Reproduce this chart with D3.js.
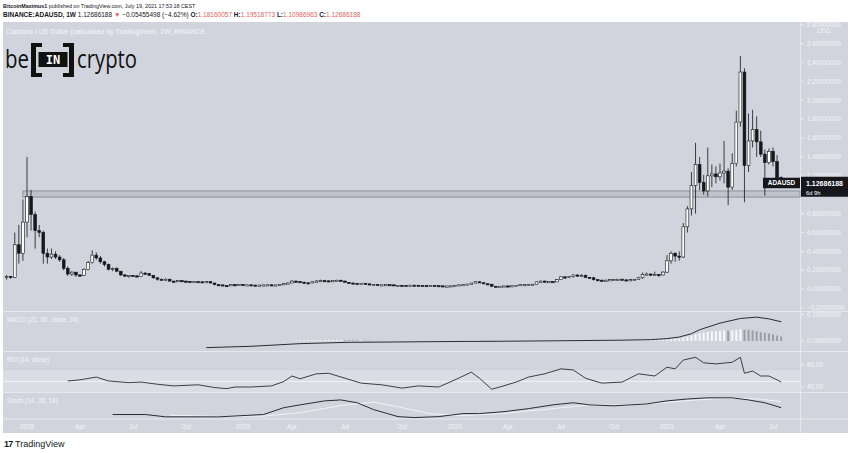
<!DOCTYPE html>
<html>
<head>
<meta charset="utf-8">
<script src="https://cdn.jsdelivr.net/npm/d3@7"></script>
<style>
  body { margin: 0; background: #fff; }
  svg { display: block; font-family: "Liberation Sans", Arial, sans-serif; }
</style>
</head>
<body>
<div id="chart"></div>
<script>
// weekly ADAUSD candles, first bar = week of 2017-11-27
const firstWeek = "2017-11-27";
const opens = [
  .125,.135,.125,.47,.38,.71,.98,.79,.62,.60,
  .38,.34,.37,.34,.31,.22,.16,.18,.15,.145,
  .21,.28,.36,.33,.29,.26,.21,.22,.19,.15,
  .14,.145,.14,.135,.17,.165,.145,.12,.105,.10,
  .105,.085,.08,.09,.085,.082,.078,.08,.078,.077,
  .08,.065,.047,.045,.038,.035,.047,.045,.049,.045,
  .046,.043,.04,.043,.045,.046,.044,.045,.049,.058,
  .065,.085,.08,.074,.067,.066,.078,.086,.09,.088,
  .082,.09,.094,.085,.072,.065,.06,.058,.062,.056,
  .048,.049,.045,.046,.048,.046,.039,.04,.039,.037,
  .042,.041,.04,.038,.034,.039,.037,.035,.033,.033,
  .035,.041,.046,.048,.054,.064,.078,.068,.057,.052,
  .03,.029,.031,.034,.033,.036,.039,.048,.048,.049,
  .052,.077,.085,.079,.08,.077,.10,.13,.125,.135,
  .15,.14,.145,.125,.12,.10,.095,.09,.095,.10,
  .102,.105,.098,.095,.10,.103,.12,.155,.16,.15,
  .155,.15,.18,.30,.38,.35,.34,.66,.85,1.10,
  1.32,1.13,1.04,1.20,1.22,1.19,1.23,1.25,1.08,1.33,
  1.77,2.30,1.31,1.57,1.69,1.56,1.43,1.34,1.46,1.35,
  1.18160057
];
const highs = [
  .15,.14,.60,.68,.95,1.40,1.05,.82,.68,.62,
  .43,.43,.40,.36,.33,.24,.19,.18,.16,.22,
  .30,.41,.39,.35,.30,.27,.23,.23,.19,.16,
  .15,.15,.15,.19,.18,.17,.15,.125,.11,.115,
  .11,.09,.095,.095,.09,.085,.082,.082,.08,.085,
  .082,.066,.05,.047,.04,.05,.05,.05,.052,.048,
  .047,.045,.044,.046,.05,.048,.046,.05,.06,.07,
  .095,.09,.085,.078,.07,.08,.095,.10,.098,.09,
  .092,.10,.098,.09,.075,.068,.063,.063,.064,.058,
  .052,.05,.048,.05,.05,.047,.042,.042,.04,.045,
  .045,.044,.042,.039,.04,.04,.038,.036,.035,.036,
  .042,.048,.05,.056,.066,.085,.08,.07,.06,.053,
  .035,.032,.035,.038,.037,.04,.05,.052,.05,.055,
  .08,.09,.09,.084,.082,.105,.137,.135,.14,.155,
  .155,.16,.155,.13,.13,.105,.10,.10,.105,.105,
  .108,.11,.105,.105,.108,.13,.175,.175,.165,.185,
  .16,.19,.36,.40,.39,.40,.70,.88,1.24,1.55,
  1.40,1.21,1.50,1.32,1.30,1.33,1.57,1.28,1.44,1.89,
  2.47,2.34,1.86,1.90,1.83,1.68,1.48,1.49,1.50,1.42,
  1.19518773
];
const lows = [
  .10,.11,.12,.27,.30,.55,.62,.43,.55,.27,
  .27,.32,.32,.29,.20,.14,.14,.13,.13,.14,
  .20,.27,.31,.27,.24,.20,.19,.18,.14,.13,
  .12,.13,.13,.13,.15,.14,.11,.09,.095,.095,
  .08,.07,.075,.08,.08,.07,.075,.076,.075,.076,
  .06,.04,.038,.036,.031,.034,.04,.04,.04,.043,
  .041,.036,.038,.041,.043,.042,.041,.044,.048,.056,
  .064,.075,.072,.06,.063,.064,.07,.08,.085,.075,
  .08,.088,.08,.07,.06,.055,.057,.056,.055,.045,
  .046,.043,.044,.044,.045,.036,.037,.038,.036,.035,
  .04,.039,.037,.033,.032,.036,.034,.031,.032,.032,
  .034,.04,.042,.046,.053,.062,.065,.055,.05,.023,
  .027,.027,.029,.032,.03,.034,.038,.043,.042,.048,
  .05,.075,.075,.077,.075,.076,.098,.11,.12,.12,
  .13,.135,.12,.115,.09,.09,.085,.088,.093,.095,
  .099,.096,.093,.094,.094,.10,.11,.145,.14,.145,
  .13,.145,.17,.27,.29,.30,.33,.60,.78,.80,
  1.05,1.00,.98,1.08,1.12,1.15,1.12,.89,1.05,1.30,
  1.72,.92,1.24,1.50,1.40,1.40,.99,1.32,1.30,1.12,
  1.10986963
];
const closes = [
  .135,.125,.47,.38,.71,.98,.79,.62,.60,.38,
  .34,.37,.34,.31,.22,.16,.18,.15,.145,.21,
  .28,.36,.33,.29,.26,.21,.22,.19,.15,.14,
  .145,.14,.135,.17,.165,.145,.12,.105,.10,.105,
  .085,.08,.09,.085,.082,.078,.08,.078,.077,.08,
  .065,.047,.045,.038,.035,.047,.045,.049,.045,.046,
  .043,.04,.043,.045,.046,.044,.045,.049,.058,.065,
  .085,.08,.074,.067,.066,.078,.086,.09,.088,.082,
  .09,.094,.085,.072,.065,.06,.058,.062,.056,.048,
  .049,.045,.046,.048,.046,.039,.04,.039,.037,.042,
  .041,.04,.038,.034,.039,.037,.035,.033,.033,.035,
  .041,.046,.048,.054,.064,.078,.068,.057,.052,.03,
  .029,.031,.034,.033,.036,.039,.048,.048,.049,.052,
  .077,.085,.079,.08,.077,.10,.13,.125,.135,.15,
  .14,.145,.125,.12,.10,.095,.09,.095,.10,.102,
  .105,.098,.095,.10,.103,.12,.155,.16,.15,.155,
  .15,.18,.30,.38,.35,.34,.66,.85,1.10,1.32,
  1.13,1.04,1.20,1.22,1.19,1.23,1.25,1.08,1.33,1.77,
  2.30,1.31,1.57,1.69,1.56,1.43,1.34,1.46,1.35,1.18,
  1.12686188
];

// indicator readings as [bar index, value]
const macdLine = [[49,-0.05],[60,-0.04],[72,-0.02],[84,-0.01],[97,-0.007],[109,-0.004],[121,-0.002],
  [136,0.002],[150,0.006],[158,0.01],[162,0.018],[165,0.03],[168,0.055],[170,0.085],[175,0.135],
  [180,0.17],[184,0.18],[187,0.167],[190,0.145]];
const histStart = 70;
const macdHist = [
  0.002,0.004,0.005,0.006,0.006,0.007,0.007,0.008,0.008,0.008,
  0.008,0.008,0.008,0.007,0.006,0.005,0.004,0.004,0.003,0.002,
  0.002,0.001,0.001,0.001,0.001,0.000,0.000,-0.001,-0.001,-0.001,
  -0.001,-0.001,-0.002,-0.002,-0.002,-0.002,-0.002,
  -0.002,-0.002,-0.002,-0.001,0.000,0.001,0.002,0.003,0.004,0.004,
  0.003,0.002,0.000,-0.001,-0.002,-0.002,-0.002,-0.002,-0.001,-0.001,
  0.000,0.000,0.001,0.002,0.003,0.004,0.005,0.006,0.007,0.008,
  0.008,0.009,0.009,0.009,
  0.009,0.008,0.008,0.007,0.006,0.005,0.004,0.004,0.003,0.003,
  0.002,0.002,0.002,0.002,0.003,0.004,0.005,0.006,0.006,0.007,
  0.008,0.010,
  0.013,0.016,0.018,0.025,0.033,0.042,0.052,0.058,0.062,0.068,
  0.072,0.075,0.077,0.080,0.078,0.080,0.084,0.090,0.086,0.084,
  0.080,0.074,0.067,0.062,0.057,0.050,0.041,0.035
];
const rsiLine = [[15,51],[18,53],[22,58],[25,51],[30,48],[33,49],[37,45],[41,42],[47,44],[51,39],
  [54,37],[56,40],[60,40],[65,42],[68,50],[70,60],[72,55],[76,64],[79,65],[83,56],[87,47],[92,44],
  [97,38],[101,42],[106,40],[110,53],[114,67],[116,56],[119,36],[121,40],[125,49],[128,58],[132,64],
  [136,73],[139,71],[142,56],[146,47],[151,49],[155,64],[159,60],[162,76],[164,73],[166,89],[169,94],
  [171,84],[174,82],[178,85],[180,94],[181,65],[183,69],[185,60],[187,60],[189,53],[190,49]];
const stochK = [[26,17],[34,17],[39,7],[52,7],[63,17],[68,46],[72,58],[78,75],[82,79],[86,67],[90,38],
  [96,8],[100,4],[106,8],[112,21],[116,21],[122,29],[128,42],[134,58],[139,67],[143,58],[149,54],
  [153,58],[157,62],[162,75],[167,83],[172,88],[178,88],[182,79],[186,67],[190,46]];
const stochD = [[40,14],[52,9],[63,10],[72,25],[82,55],[90,70],[96,50],[104,20],[112,12],[122,22],
  [133,40],[143,58],[152,58],[160,66],[170,80],[178,87],[185,82],[190,72]];

// support zone drawn on the chart
const zoneStartIndex = 4;
const zoneTop = 1.04, zoneBottom = 0.975;

const priceTicks = d3.range(-0.2, 2.81, 0.2);
const macdTicks = [0, 0.2];
const rsiTicks = [40, 80];
const timeTickDates = ["2018-01-01","2018-04-02","2018-07-02","2018-10-01","2019-01-07","2019-04-01",
  "2019-07-01","2019-10-07","2020-01-06","2020-04-06","2020-07-06","2020-10-05","2021-01-04",
  "2021-04-05","2021-07-05"];
const timeTickLabels = ["2018","Apr","Jul","Oct","2019","Apr","Jul","Oct","2020","Apr","Jul","Oct",
  "2021","Apr","Jul"];

const W = 850, H = 453;
const chartLeft = 3, plotRight = 800, chartRight = 848;
const chartTop = 22, chartBottom = 433;
const panes = {
  main: [chartTop, 311.5],
  macd: [311.5, 351.5],
  rsi: [351.5, 392.5],
  stoch: [392.5, 419]
};
const bg = '#d1d4dc', light = '#f4f5f8', sep = '#e6e8ee', ink = '#16171c';

const parse = d3.utcParse('%Y-%m-%d');
const start = parse(firstWeek);
const dates = closes.map((_, i) => d3.utcDay.offset(start, 7 * i));

const x = d3.scaleUtc()
  .domain([parse('2018-01-01'), parse('2021-01-04')])
  .range([27, 667]);
const y = d3.scaleLinear().domain([-0.2, 2.6]).range([308, 43.7]);
const yMacd = d3.scaleLinear().domain([0, 0.2]).range([341, 314.5]);
const yRsi = d3.scaleLinear().domain([40, 80]).range([387, 365]);
const yStoch = d3.scaleLinear().domain([0, 100]).range([418.5, 395]);

const svg = d3.select('#chart').append('svg')
  .attr('width', W)
  .attr('height', H);

svg.append('rect').attr('width', W).attr('height', H).attr('fill', '#fff');
svg.append('rect')
  .attr('x', chartLeft).attr('y', chartTop)
  .attr('width', chartRight - chartLeft).attr('height', chartBottom - chartTop)
  .attr('fill', bg);

// clip paths for each pane (plot area and the matching axis strip)
const defs = svg.append('defs');
Object.entries(panes).forEach(([name, [y0, y1]]) => {
  defs.append('clipPath').attr('id', 'clip-' + name)
    .append('rect')
    .attr('x', chartLeft).attr('y', y0)
    .attr('width', plotRight - chartLeft).attr('height', y1 - y0);
  defs.append('clipPath').attr('id', 'axis-' + name)
    .append('rect')
    .attr('x', plotRight).attr('y', y0)
    .attr('width', chartRight - plotRight).attr('height', y1 - y0);
});

// RSI band 30-70 and middle line
svg.append('rect')
  .attr('x', chartLeft).attr('y', yRsi(70))
  .attr('width', plotRight - chartLeft).attr('height', yRsi(30) - yRsi(70))
  .attr('fill', '#dadde4')
  .attr('clip-path', 'url(#clip-rsi)');
svg.append('line')
  .attr('x1', chartLeft).attr('x2', plotRight)
  .attr('y1', yRsi(50)).attr('y2', yRsi(50))
  .attr('stroke', '#eef0f4').attr('stroke-width', 1.2);

// pane separators
[panes.macd[0], panes.rsi[0], panes.stoch[0], panes.stoch[1]].forEach(v => {
  svg.append('line')
    .attr('x1', chartLeft).attr('x2', chartRight)
    .attr('y1', v).attr('y2', v)
    .attr('stroke', sep).attr('stroke-width', 1);
});
svg.append('line')
  .attr('x1', plotRight + 0.5).attr('x2', plotRight + 0.5)
  .attr('y1', chartTop).attr('y2', chartBottom)
  .attr('stroke', sep).attr('stroke-width', 1);

// support zone
svg.append('rect')
  .attr('x', x(dates[zoneStartIndex]))
  .attr('y', y(zoneTop))
  .attr('width', plotRight - x(dates[zoneStartIndex]))
  .attr('height', y(zoneBottom) - y(zoneTop))
  .attr('fill', 'rgba(160,163,172,0.35)')
  .attr('stroke', '#8e919a')
  .attr('stroke-width', 1);

// candles
const candles = svg.append('g').attr('clip-path', 'url(#clip-main)')
  .selectAll('g')
  .data(closes.map((c, i) => ({ d: dates[i], o: opens[i], h: highs[i], l: lows[i], c })))
  .join('g');

candles.append('line')
  .attr('x1', d => x(d.d)).attr('x2', d => x(d.d))
  .attr('y1', d => y(d.h)).attr('y2', d => y(d.l))
  .attr('stroke', ink).attr('stroke-width', 0.8);

candles.append('rect')
  .attr('x', d => x(d.d) - 1.4)
  .attr('width', 2.8)
  .attr('y', d => Math.min(y(d.o), y(d.c)))
  .attr('height', d => Math.max(1.2, Math.abs(y(d.o) - y(d.c))))
  .attr('fill', d => d.c >= d.o ? '#ffffff' : ink)
  .attr('stroke', ink)
  .attr('stroke-width', 0.6);

// MACD
const histBars = macdHist.map((v, k) => ({
  d: dates[histStart + k], v,
  rising: k === 0 ? true : v >= macdHist[k - 1]
}));
svg.append('g').attr('clip-path', 'url(#clip-macd)')
  .selectAll('rect')
  .data(histBars)
  .join('rect')
  .attr('x', d => x(d.d) - 1)
  .attr('width', 2)
  .attr('y', d => Math.min(yMacd(d.v), yMacd(0)))
  .attr('height', d => Math.abs(yMacd(d.v) - yMacd(0)))
  .attr('fill', d => d.rising ? '#f7f8fa' : '#9a9da6');

const lineFor = (scale) => d3.line()
  .x(p => x(dates[p[0]]))
  .y(p => scale(p[1]));

svg.append('path')
  .datum(macdLine)
  .attr('d', lineFor(yMacd))
  .attr('fill', 'none').attr('stroke', '#2a2c33').attr('stroke-width', 1)
  .attr('clip-path', 'url(#clip-macd)');

// RSI
svg.append('path')
  .datum(rsiLine)
  .attr('d', lineFor(yRsi))
  .attr('fill', 'none').attr('stroke', '#2a2c33').attr('stroke-width', 0.9)
  .attr('clip-path', 'url(#clip-rsi)');

// Stoch
svg.append('path')
  .datum(stochD)
  .attr('d', lineFor(yStoch))
  .attr('fill', 'none').attr('stroke', '#f4f5f8').attr('stroke-width', 0.9)
  .attr('clip-path', 'url(#clip-stoch)');
svg.append('path')
  .datum(stochK)
  .attr('d', lineFor(yStoch))
  .attr('fill', 'none').attr('stroke', '#2a2c33').attr('stroke-width', 1)
  .attr('clip-path', 'url(#clip-stoch)');

// right price axis
const axisFont = 6.4;
const last = closes[closes.length - 1];
const boxTop = y(last) - 6, boxBottom = y(last) + 14;
const rightLabel = (g, yy, txt) => {
  g.append('line')
    .attr('x1', plotRight + 1).attr('x2', plotRight + 4)
    .attr('y1', yy).attr('y2', yy)
    .attr('stroke', light).attr('stroke-width', 0.8);
  g.append('text')
    .attr('x', plotRight + 7).attr('y', yy)
    .attr('dy', '0.35em')
    .text(txt);
};
const priceAxis = svg.append('g')
  .attr('font-size', axisFont).attr('fill', light)
  .attr('clip-path', 'url(#axis-main)');
// a label fully covered by the last-price box is left out
priceTicks
  .filter(v => !(y(v) > boxTop + 2 && y(v) < boxBottom + 2))
  .forEach(v => rightLabel(priceAxis, y(v), d3.format('.8f')(Math.abs(v) < 1e-9 ? 0 : v)));
priceAxis.append('text')
  .attr('x', 824).attr('y', 33)
  .attr('text-anchor', 'middle')
  .text('USD');

const macdAxis = svg.append('g')
  .attr('font-size', axisFont).attr('fill', light)
  .attr('clip-path', 'url(#axis-macd)');
macdTicks.forEach(v => rightLabel(macdAxis, yMacd(v), d3.format('.8f')(v)));

const rsiAxis = svg.append('g')
  .attr('font-size', axisFont).attr('fill', light)
  .attr('clip-path', 'url(#axis-rsi)');
rsiTicks.forEach(v => rightLabel(rsiAxis, yRsi(v), d3.format('.2f')(v)));

// time axis
svg.append('g')
  .attr('font-size', axisFont).attr('fill', light)
  .attr('text-anchor', 'middle')
  .selectAll('text')
  .data(timeTickDates)
  .join('text')
  .attr('x', d => x(parse(d)))
  .attr('y', 428.5)
  .text((d, i) => timeTickLabels[i]);

// pane titles
svg.append('text')
  .attr('x', 6).attr('y', 34)
  .attr('font-size', 7).attr('fill', light)
  .text('Cardano / US Dollar (calculated by TradingView), 1W, BINANCE');
const titles = [
  ['MACD (21, 50, close, 24)', 322],
  ['RSI (14, close)', 362],
  ['Stoch (14, 28, 14)', 403]
];
svg.append('g')
  .attr('font-size', 6.4).attr('fill', light)
  .selectAll('text')
  .data(titles)
  .join('text')
  .attr('x', 7).attr('y', d => d[1])
  .text(d => d[0]);

// last price tag
svg.append('rect')
  .attr('x', 763).attr('y', y(last) - 5)
  .attr('width', 37).attr('height', 10.5)
  .attr('fill', ink);
svg.append('text')
  .attr('x', 781.5).attr('y', y(last) + 0.3)
  .attr('dy', '0.35em')
  .attr('text-anchor', 'middle')
  .attr('font-size', 6.4).attr('font-weight', 'bold').attr('fill', '#fff')
  .text('ADAUSD');
svg.append('rect')
  .attr('x', plotRight + 1).attr('y', boxTop)
  .attr('width', 47).attr('height', boxBottom - boxTop)
  .attr('fill', ink);
svg.append('text')
  .attr('x', plotRight + 6).attr('y', y(last) + 3.2)
  .attr('font-size', 7).attr('font-weight', 'bold').attr('fill', '#fff')
  .text(d3.format('.8f')(last));
svg.append('text')
  .attr('x', plotRight + 6).attr('y', y(last) + 12)
  .attr('font-size', 5.8).attr('fill', '#fff')
  .text('6d 9h');

// header (drawn last so it hides anything above the chart)
svg.append('rect').attr('width', W).attr('height', chartTop).attr('fill', '#fff');
const head1 = svg.append('text').attr('x', 3).attr('y', 8).attr('font-size', 5.4).attr('fill', ink);
head1.append('tspan').attr('font-weight', 'bold').text('BitcoinMaximus1');
head1.append('tspan').text(' published on TradingView.com, July 19, 2021 17:53:18 CEST');

const red = '#e0605c';
const head2 = svg.append('text').attr('x', 3).attr('y', 16.5).attr('font-size', 6.5).attr('fill', ink);
head2.append('tspan').attr('font-weight', 'bold').text('BINANCE:ADAUSD, 1W');
head2.append('tspan').text('  1.12686188 ');
head2.append('tspan').attr('fill', red).text('▼');
head2.append('tspan').text(' −0.05455498 (−4.62%) ');
[['O:', '1.18160057'], ['H:', '1.19518773'], ['L:', '1.10986963'], ['C:', '1.12686188']].forEach(([k, v]) => {
  head2.append('tspan').attr('font-weight', 'bold').text(k);
  head2.append('tspan').attr('fill', red).text(v + ' ');
});

// beincrypto logo
const logo = svg.append('g').attr('fill', '#111');
logo.append('text')
  .attr('x', 5).attr('y', 68)
  .attr('font-family', '"Open Sans", sans-serif')
  .attr('font-size', 25)
  .attr('textLength', 24).attr('lengthAdjust', 'spacingAndGlyphs')
  .text('be');
logo.append('path')
  .attr('d', 'M31,43 H42 V47 H36 V73 H42 V77 H31 Z M74,43 H63 V47 H69 V73 H63 V77 H74 Z');
logo.append('rect').attr('x', 38.5).attr('y', 52).attr('width', 29).attr('height', 15);
logo.append('text')
  .attr('x', 53).attr('y', 64)
  .attr('text-anchor', 'middle')
  .attr('font-size', 12).attr('font-weight', 'bold')
  .attr('font-family', '"DejaVu Sans Mono", monospace')
  .attr('fill', '#fff')
  .text('IN');
logo.append('text')
  .attr('x', 77).attr('y', 68)
  .attr('font-family', '"Open Sans", sans-serif')
  .attr('font-size', 25)
  .attr('textLength', 60).attr('lengthAdjust', 'spacingAndGlyphs')
  .text('crypto');

// footer logo
const foot = svg.append('g').attr('fill', '#131722');
foot.append('text')
  .attr('x', 4).attr('y', 447)
  .attr('font-size', 9).attr('font-weight', 'bold')
  .attr('letter-spacing', -0.8)
  .text('17');
foot.append('text')
  .attr('x', 15).attr('y', 447)
  .attr('font-size', 9)
  .text('TradingView');
</script>
</body>
</html>
